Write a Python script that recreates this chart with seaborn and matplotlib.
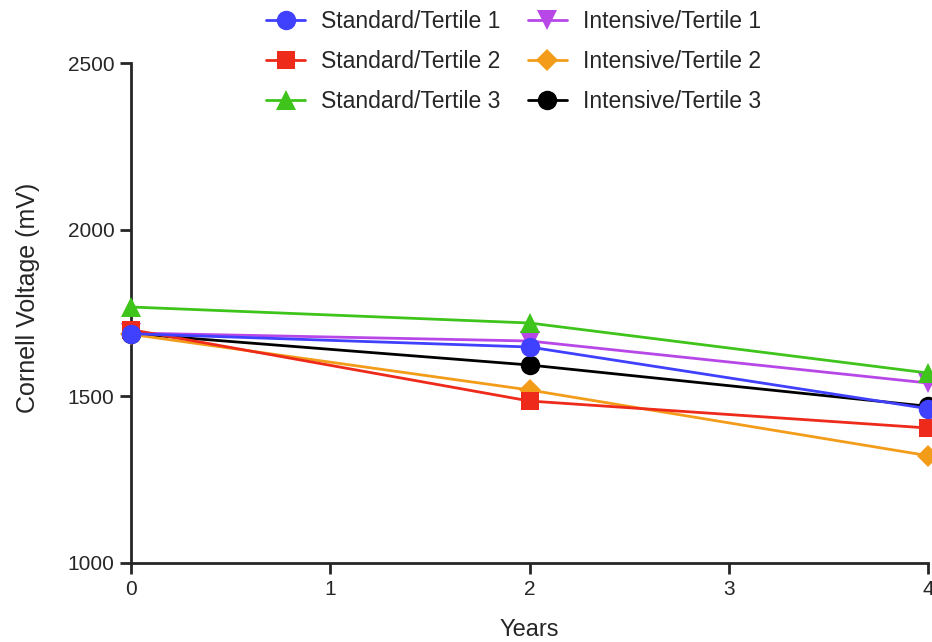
import pandas as pd
import matplotlib
matplotlib.use('Agg')
import matplotlib.pyplot as plt
import seaborn as sns

sns.set_style('ticks')
plt.rcParams['font.family'] = ['Liberation Sans', 'DejaVu Sans']

years = [0, 2, 4]
groups = ['Standard/Tertile 1', 'Standard/Tertile 2', 'Standard/Tertile 3',
          'Intensive/Tertile 1', 'Intensive/Tertile 2', 'Intensive/Tertile 3']
std_t1 = [1688, 1648, 1463]
std_t2 = [1700, 1486, 1405]
std_t3 = [1768, 1720, 1570]
int_t1 = [1690, 1666, 1540]
int_t2 = [1686, 1519, 1322]
int_t3 = [1688, 1594, 1470]

colors = ['#4040ff', '#ee2a1b', '#3ec41a', '#b847e8', '#f39c1a', '#000000']
markers = ['o', 's', '^', 'v', 'D', 'o']
sizes = [14, 13, 14, 14, 11, 14]

series = [std_t1, std_t2, std_t3, int_t1, int_t2, int_t3]
rows = []
for g, vals in zip(groups, series):
    for yr, v in zip(years, vals):
        rows.append({'Years': yr, 'Voltage': v, 'Group': g})
df = pd.DataFrame(rows)

fig = plt.figure(figsize=(9.32, 6.42), dpi=100)
ax = fig.add_axes([131 / 932, 1 - 563 / 642, (928 - 131) / 932, (563 - 63) / 642])

for i, g in enumerate(groups):
    sub = df[df['Group'] == g]
    sns.lineplot(data=sub, x='Years', y='Voltage', ax=ax, color=colors[i],
                 marker=markers[i], markersize=sizes[i], markeredgewidth=0,
                 linewidth=2, label=g, zorder=10 - i, clip_on=False)

ax.set_xlim(0, 4)
ax.set_ylim(1000, 2500)
ax.set_xticks([0, 1, 2, 3, 4])
ax.set_yticks([1000, 1500, 2000, 2500])
ax.tick_params(axis='both', direction='out', length=8, width=2, labelsize=15, pad=4)
for s in ['top', 'right']:
    ax.spines[s].set_visible(False)
for s in ['left', 'bottom']:
    ax.spines[s].set_linewidth(2)
ax.set_xlabel('Years', fontsize=17, labelpad=15)
ax.set_ylabel('Cornell Voltage (mV)', fontsize=18)
ax.yaxis.set_label_coords(-0.114, 0.53)

leg = ax.legend(ncol=2, loc='upper center', bbox_to_anchor=(0.48, 1.148),
                frameon=False, fontsize=16.5, handlelength=1.7,
                handletextpad=0.7, columnspacing=1.2, labelspacing=0.75)

fig.savefig('out.png', dpi=100)
